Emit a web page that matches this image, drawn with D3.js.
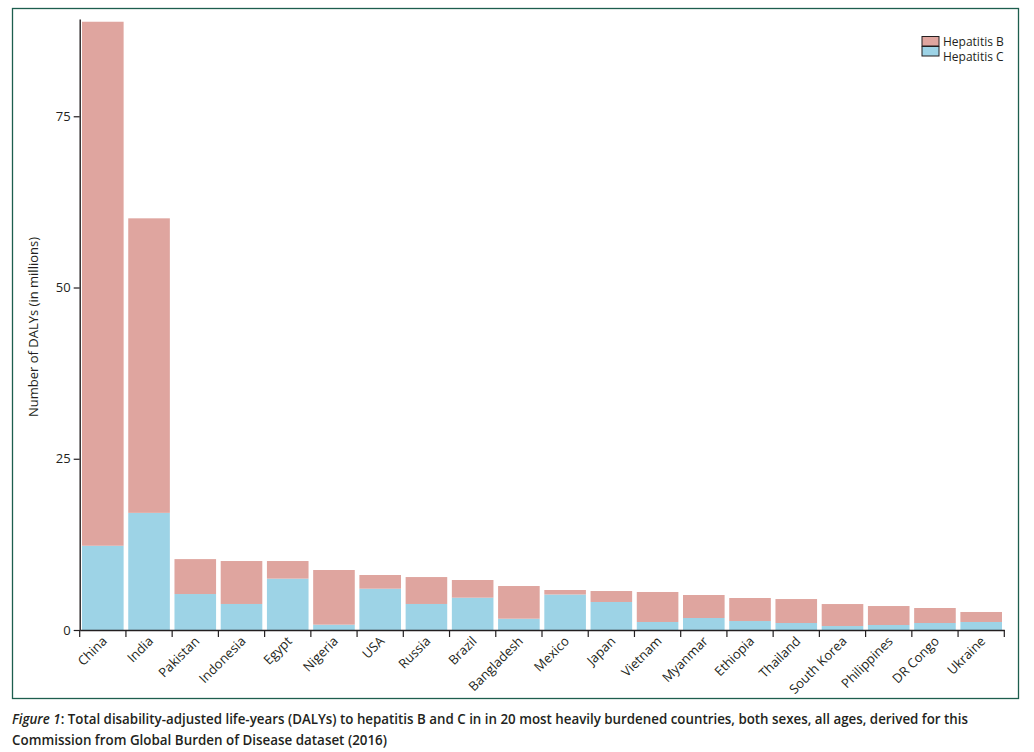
<!DOCTYPE html>
<html>
<head>
<meta charset="utf-8">
<script src="https://cdn.jsdelivr.net/npm/d3@7"></script>
<style>
  body { margin: 0; background: #fff; }
  text { fill: #231f20; }
</style>
</head>
<body>
<script>
const countries = ["China", "India", "Pakistan", "Indonesia", "Egypt", "Nigeria", "USA", "Russia",
  "Brazil", "Bangladesh", "Mexico", "Japan", "Vietnam", "Myanmar", "Ethiopia", "Thailand",
  "South Korea", "Philippines", "DR Congo", "Ukraine"];
// millions of DALYs
const hepC = [12.3, 17.1, 5.25, 3.8, 7.5, 0.78, 6.03, 3.8, 4.72, 1.65, 5.18, 4.09, 1.17, 1.75, 1.31, 1.02, 0.58, 0.73, 1.02, 1.17];
const hepB = [76.5, 43.0, 5.1, 6.27, 2.57, 7.98, 2.0, 3.93, 2.58, 4.77, 0.66, 1.6, 4.38, 3.36, 3.36, 3.5, 3.21, 2.77, 2.19, 1.46];
const yTicks = [0, 25, 50, 75];
const seriesNames = ["Hepatitis B", "Hepatitis C"];
const colors = { "Hepatitis B": "#dfa59f", "Hepatitis C": "#9dd3e6" };

const w = 1034, h = 752;
const svg = d3.select("body").append("svg").attr("width", w).attr("height", h)
  .style("font-family", "'Open Sans', sans-serif");

// frame
svg.append("rect").attr("x", 12.5).attr("y", 8.5).attr("width", 1006).attr("height", 690)
  .attr("fill", "none").attr("stroke", "#1d5e4e").attr("stroke-width", 1.3);

const x = d3.scaleBand().domain(countries).range([79.7, 1004.3])
  .paddingInner(0.1).paddingOuter(0.05);
const y = d3.scaleLinear().domain([0, 89.2]).range([630, 19]);

const rows = countries.map((c, i) => ({ country: c, "Hepatitis C": hepC[i], "Hepatitis B": hepB[i] }));
const stack = d3.stack().keys(["Hepatitis C", "Hepatitis B"])(rows);

svg.append("g").selectAll("g").data(stack).join("g")
  .attr("fill", d => colors[d.key])
  .selectAll("rect").data(d => d).join("rect")
  .attr("x", d => x(d.data.country))
  .attr("width", x.bandwidth())
  .attr("y", d => y(d[1]))
  .attr("height", d => y(d[0]) - y(d[1]));

// y axis
const yAxis = svg.append("g").attr("transform", "translate(79.7,0)")
  .call(d3.axisLeft(y).tickValues(yTicks).tickSize(6).tickSizeOuter(0));
yAxis.select(".domain").attr("stroke", "#231f20").attr("stroke-width", 1.4);
yAxis.selectAll(".tick line").attr("stroke", "#231f20").attr("stroke-width", 1.2);
yAxis.selectAll(".tick text").attr("font-size", 13).attr("font-family", "'Open Sans', sans-serif")
  .attr("x", -9).style("fill", "#231f20");

// x axis
const xAxis = svg.append("g").attr("transform", "translate(0,630)")
  .call(d3.axisBottom(x).tickSize(0).tickSizeOuter(0));
xAxis.select(".domain").attr("stroke", "#231f20").attr("stroke-width", 1.4);
xAxis.selectAll(".tick text")
  .attr("font-size", 13).attr("font-family", "'Open Sans', sans-serif")
  .style("fill", "#231f20")
  .attr("text-anchor", "end")
  .attr("y", 0).attr("dy", 0)
  .attr("transform", "translate(5,12) rotate(-45)");

// boundary ticks
const bounds = d3.range(countries.length + 1).map(i => x.range()[0] + i * x.step());
svg.append("g").selectAll("line").data(bounds).join("line")
  .attr("x1", d => d).attr("x2", d => d).attr("y1", 630).attr("y2", 637)
  .attr("stroke", "#231f20").attr("stroke-width", 1.2);

// y label
svg.append("text").attr("transform", "translate(38,327) rotate(-90)")
  .attr("text-anchor", "middle").attr("font-size", 13)
  .text("Number of DALYs (in millions)");

// legend
const legend = svg.append("g");
legend.selectAll("rect").data(seriesNames).join("rect")
  .attr("x", 922).attr("y", (d, i) => 36.5 + i * 10).attr("width", 17).attr("height", 9.5)
  .attr("fill", d => colors[d]).attr("stroke", "#231f20").attr("stroke-width", 1);
legend.selectAll("text").data(seriesNames).join("text")
  .attr("x", 943).attr("y", (d, i) => 46 + i * 15)
  .attr("font-size", 12).text(d => d);

// caption
const cap = svg.append("text").attr("x", 12).attr("y", 724).attr("font-size", 14)
  .attr("font-weight", 600);
cap.append("tspan").attr("font-style", "italic").text("Figure 1");
cap.append("tspan").text(": Total disability-adjusted life-years (DALYs) to hepatitis B and C in in 20 most heavily burdened countries, both sexes, all ages, derived for this");
cap.attr("textLength", 956).attr("lengthAdjust", "spacingAndGlyphs");
svg.append("text").attr("x", 12).attr("y", 745).attr("font-size", 14).attr("font-weight", 600)
  .attr("textLength", 375).attr("lengthAdjust", "spacingAndGlyphs")
  .text("Commission from Global Burden of Disease dataset (2016)");
</script>
</body>
</html>
